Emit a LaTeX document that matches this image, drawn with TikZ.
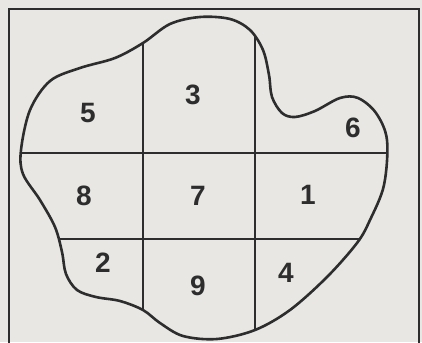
\documentclass[tikz,border=0pt]{standalone}
\usepackage{fontspec}
\setmainfont{Liberation Sans}
\usepackage{tikz}
\usepackage{xcolor}

\definecolor{paper}{RGB}{232,231,227}
\definecolor{ink}{RGB}{45,45,45}

\tikzset{
  region/.style={font=\fontsize{28}{32}\selectfont\bfseries, text=ink, inner sep=0pt},
  gridline/.style={draw=ink, line width=1.6pt},
}

\begin{document}
\begin{tikzpicture}[x=1pt, y=-1pt]

    % Background and frame
    \fill[paper] (0,0) rectangle (422,342);
    \useasboundingbox (0,0) rectangle (422,342);
    \draw[ink, line width=1.8pt] (9,350) -- (9,9) -- (419,9) -- (419,350);

    % Outline of the area
    \def\outline{plot[smooth cycle, tension=0.55] coordinates {
      (200,17) (230,19) (250,30) (263,50) (269,75) (272,97) (282,113)
      (295,117) (315,111) (340,98) (358,98) (376,113) (387,140)
      (384,185) (370,220) (357,243) (327,277) (290,310) (255,330)
      (217,339) (183,336) (160,323) (143,310) (120,301) (96,297)
      (77,290) (66,274) (62,252) (55,227) (40,200) (23,174) (21,150)
      (30,110) (50,81) (80,68) (115,58) (143,43) (170,24)}}

    % Grid, clipped to the area
    \begin{scope}
      \clip \outline;
      \draw[gridline] (143,0) -- (143,342);
      \draw[gridline] (255,0) -- (255,342);
      \draw[gridline] (0,153) -- (422,153);
      \draw[gridline] (0,239) -- (422,239);
    \end{scope}

    \draw[ink, line width=2.6pt] \outline;

    % Region numbers
    \node[region] (r5) at (88,113) {5};
    \node[region] (r3) at (193,95) {3};
    \node[region] (r6) at (353,128) {6};
    \node[region] (r8) at (84,196) {8};
    \node[region] (r7) at (198,196) {7};
    \node[region] (r1) at (308,195) {1};
    \node[region] (r2) at (103,263) {2};
    \node[region] (r9) at (198,286) {9};
    \node[region] (r4) at (286,273) {4};

\end{tikzpicture}
\end{document}
